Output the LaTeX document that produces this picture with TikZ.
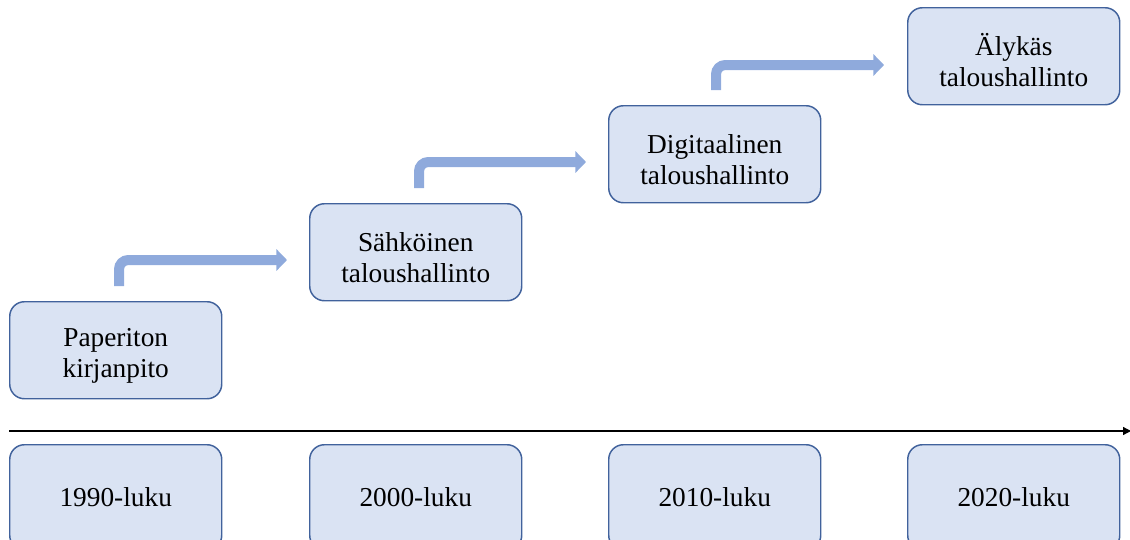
\documentclass[tikz,border=0pt]{standalone}
\usepackage{fontspec}
\setmainfont{Liberation Serif}
\usetikzlibrary{arrows.meta}
\definecolor{boxfill}{HTML}{DAE3F3}
\definecolor{boxline}{HTML}{41629C}
\definecolor{arrowblue}{HTML}{8FAADC}
\newcommand\toplinefix{\rule{0pt}{22pt}}
\tikzset{
  stage/.style={draw=boxline, line width=1.1pt, fill=boxfill, rounded corners=11pt,
    minimum width=159pt, minimum height=72.75pt, inner sep=0pt, align=center,
    font=\fontsize{20.5}{23.6}\selectfont, anchor=north west},
  decade/.style={stage, minimum height=79pt},
  stepflow/.style={arrowblue, line width=7.5pt, rounded corners=7pt,
    -{Triangle[length=8pt,width=16pt]}},
  timeline/.style={black, line width=0.9pt, -{Triangle[length=6pt,width=6pt]}}
}
\begin{document}
\begin{tikzpicture}[x=0.75pt,y=-0.75pt]
\useasboundingbox (0,0) rectangle (1130,539);
\clip (0,0) rectangle (1130,539);
% stage boxes
\node[stage] (s1) at (9,301) {\toplinefix Paperiton\\kirjanpito};
\node[stage] (s2) at (309,203) {\toplinefix Sähköinen\\taloushallinto};
\node[stage] (s3) at (608,105) {\toplinefix Digitaalinen\\taloushallinto};
\node[stage] (s4) at (907,7) {\toplinefix Älykäs\\taloushallinto};
% decade boxes
\node[decade] (d1) at (9,444) {1990-luku};
\node[decade] (d2) at (309,444) {2000-luku};
\node[decade] (d3) at (608,444) {2010-luku};
\node[decade] (d4) at (907,444) {2020-luku};
% timeline
\coordinate (tl0) at (9,431);
\coordinate (tl1) at (1131,431);
\draw[timeline] (tl0) -- (tl1);
% bent arrows
\coordinate (a1s) at (119,286); \coordinate (a1e) at (287,260);
\coordinate (a2s) at (419,188); \coordinate (a2e) at (586,162);
\coordinate (a3s) at (716,90);  \coordinate (a3e) at (884,65);
\draw[stepflow] (a1s) |- (a1e);
\draw[stepflow] (a2s) |- (a2e);
\draw[stepflow] (a3s) |- (a3e);
\end{tikzpicture}
\end{document}
